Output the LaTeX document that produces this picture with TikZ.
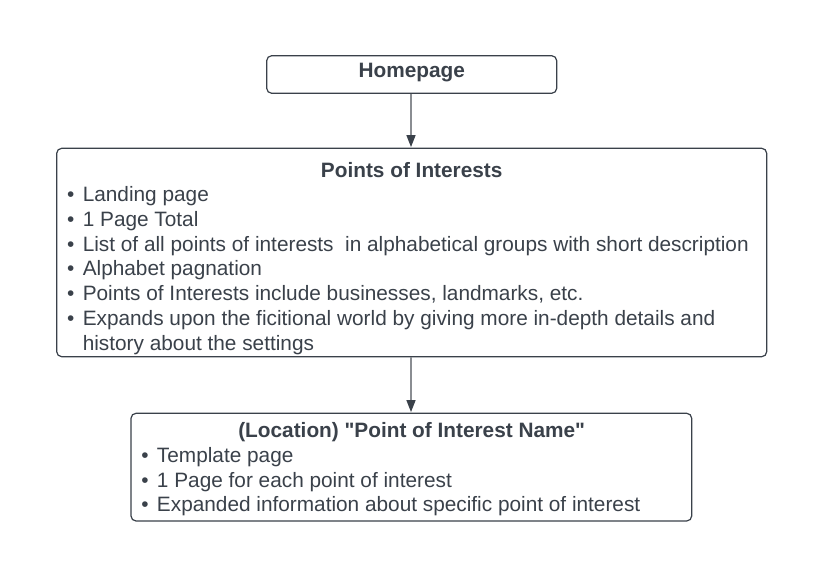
\documentclass[tikz,border=0pt]{standalone}
\usepackage{fontspec}
\setmainfont{Liberation Sans}[Ligatures=TeXOff]
\usetikzlibrary{arrows.meta}
\definecolor{ink}{HTML}{3A414A}
\definecolor{linegray}{HTML}{8A8D92}
\tikzset{
  box/.style={draw=ink, line width=1.2pt, rounded corners=5pt, inner sep=0pt, fill=white},
  txt/.style={inner sep=0pt, anchor=base west, text=ink, font=\fontsize{20.8}{25}\selectfont},
  ttl/.style={inner sep=0pt, anchor=base, text=ink, font=\fontsize{20.8}{25}\selectfont\bfseries},
  conn/.style={draw=linegray, line width=1.4pt, -{Triangle[length=12pt,width=9pt,color=ink]}, shorten >=0.6pt}
}
\newcommand{\bul}{\makebox[15.6pt][l]{\textbullet}}
\begin{document}
\begin{tikzpicture}[x=1pt,y=-1pt]
\useasboundingbox (0,0) rectangle (823,578);
% boxes
\node[box, minimum width=290pt, minimum height=37.6pt] (home) at (411.7,74.5) {};
\node[box, minimum width=710pt, minimum height=208.4pt] (poi) at (411.7,252.5) {};
\node[box, minimum width=560.7pt, minimum height=107.7pt] (loc) at (411.35,467.15) {};
% connectors
\draw[conn] (home.south -| 411,0) -- (poi.north -| 411,0);
\draw[conn] (poi.south -| 411,0) -- (loc.north -| 411,0);
% homepage text
\node[ttl] (homet) at (411.7,77.5) {Homepage};
% poi text
\node[ttl] (poit) at (411.7,177.3) {Points of Interests};
\node[txt] (p1) at (67,201.5) {\bul Landing page};
\node[txt] (p2) at (67,226.3) {\bul 1 Page Total};
\node[txt] (p3) at (67,251.1) {\bul List of all points of interests\ \ in alphabetical groups with short description};
\node[txt] (p4) at (67,275.9) {\bul Alphabet pagnation};
\node[txt] (p5) at (67,300.7) {\bul Points of Interests include businesses, landmarks, etc.};
\node[txt] (p6) at (67,325.5) {\bul Expands upon the ficitional world by giving more in-depth details and};
\node[txt] (p7) at (67,350.3) {\hspace*{15.6pt}history about the settings};
% location text
\node[ttl] (loct) at (411.7,437.3) {(Location) "Point of Interest Name"};
\node[txt] (l1) at (141.2,462.5) {\bul Template page};
\node[txt] (l2) at (141.2,487.2) {\bul 1 Page for each point of interest};
\node[txt] (l3) at (141.2,511.7) {\bul Expanded information about specific point of interest};
\end{tikzpicture}
\end{document}
